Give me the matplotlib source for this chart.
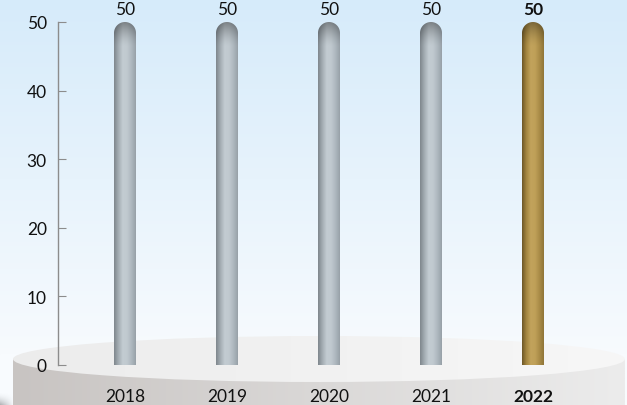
import numpy as np
import matplotlib
matplotlib.use("Agg")
import matplotlib.pyplot as plt
from matplotlib.patches import Ellipse, Rectangle, PathPatch
from matplotlib.path import Path
from matplotlib.colors import to_rgb

years = ["2018", "2019", "2020", "2021", "2022"]
values = [50, 50, 50, 50, 50]
highlight = [False, False, False, False, True]
yticks = [0, 10, 20, 30, 40, 50]

W, H = 627, 406
plt.rcParams['font.family'] = ['Lato', 'DejaVu Sans']
fig = plt.figure(figsize=(W / 100, H / 100), dpi=100)

# ---- background layer (pixel coordinates) ----
bg = fig.add_axes([0, 0, 1, 1], zorder=0)
bg.set_xlim(0, W)
bg.set_ylim(H, 0)
bg.axis('off')
top_c = np.array(to_rgb('#d6ebfa'))
bot_c = np.array(to_rgb('#f8fbfe'))
t = np.linspace(0, 1, 256)[:, None, None]
grad = top_c * (1 - t) + bot_c * t
grad = np.repeat(grad, 2, axis=1)
bg.imshow(grad, extent=(0, W, 360, 0), aspect='auto', interpolation='bicubic')
bg.add_patch(Rectangle((0, 355), W, H - 355, color='#f8fbfe', zorder=0.5))

# shadow bottom-left
sh = np.zeros((40, 40, 4))
yy, xx = np.mgrid[0:40, 0:40]
a = np.clip((yy / 39.0), 0, 1) ** 2 * np.clip(1 - xx / 39.0, 0, 1) * 0.3
sh[..., 3] = a
bg.imshow(sh, extent=(0, 14, H, 392), aspect='auto', zorder=0.8)

# podium side
cx, cy, ew, eh = 319, 360, 612, 46
side_l = np.array(to_rgb('#c8c4c2'))
side_r = np.array(to_rgb('#ececec'))
s = np.linspace(0, 1, 256)[None, :, None]
side = side_l * (1 - s) ** 1.0 + side_r * s
side = np.repeat(side, 2, axis=0)
sideim = bg.imshow(side, extent=(cx - ew / 2, cx + ew / 2, H, cy), aspect='auto', zorder=1)
clip_rect = Rectangle((cx - ew / 2, cy), ew, H - cy, transform=bg.transData)
sideim.set_clip_path(clip_rect)
# podium top
top_l = np.array(to_rgb('#ececec'))
top_r = np.array(to_rgb('#f7f7f7'))
topg = top_l * (1 - s) + top_r * s
topg = np.repeat(topg, 2, axis=0)
topim = bg.imshow(topg, extent=(cx - ew / 2, cx + ew / 2, cy + eh / 2, cy - eh / 2),
                  aspect='auto', zorder=2)
ell = Ellipse((cx, cy), ew, eh, transform=bg.transData, facecolor='none', edgecolor='none')
bg.add_patch(ell)
topim.set_clip_path(ell)
bg.set_xlim(0, W)
bg.set_ylim(H, 0)

# ---- main axes ----
ax_left, ax_bottom, ax_top = 58, 366, 23
x0c, step = 125, 102
ax = fig.add_axes([ax_left / W, (H - ax_bottom) / H, 1 - ax_left / W, (ax_bottom - ax_top) / H], zorder=2)
ax.patch.set_visible(False)
x = np.arange(len(years))
ax.set_xlim((ax_left - x0c) / step, (W - x0c) / step)
ax.set_ylim(0, 50)

bw = 22 / step
bars = ax.bar(x, values, width=bw, color='none', edgecolor='none')

fig.canvas.draw()
ppu_y = ax.transData.transform((0, 1))[1] - ax.transData.transform((0, 0))[1]
ppu_x = ax.transData.transform((1, 0))[0] - ax.transData.transform((0, 0))[0]

grey_prof = ['#7f878d', '#a4adb3', '#c3ccd2', '#c0c9cf', '#aeb8bf', '#98a1a8']
gold_prof = ['#6e5828', '#a48640', '#c2a35c', '#bfa058', '#aa8c48', '#907638']

def profile(cols, n=64):
    pts = np.linspace(0, 1, len(cols))
    arr = np.array([to_rgb(c) for c in cols])
    u = np.linspace(0, 1, n)
    return np.stack([np.interp(u, pts, arr[:, k]) for k in range(3)], axis=1)

for rect, hl, v in zip(bars, highlight, values):
    bx, bwid, bh = rect.get_x(), rect.get_width(), rect.get_height()
    rx = bwid / 2
    ry = (bwid / 2) * ppu_x / ppu_y
    theta = np.linspace(0, np.pi, 40)
    xc = bx + rx
    arc = np.column_stack([xc + rx * np.cos(theta), bh - ry + ry * np.sin(theta)])
    verts = np.vstack([[bx + bwid, 0], arc, [bx, 0], [bx + bwid, 0]])
    codes = [Path.MOVETO] + [Path.LINETO] * (len(verts) - 2) + [Path.CLOSEPOLY]
    patch = PathPatch(Path(verts, codes), facecolor='none', edgecolor='none')
    ax.add_patch(patch)
    prof = profile(gold_prof if hl else grey_prof)
    nrow = 300
    img = np.repeat(prof[None, :, :], nrow, axis=0)
    yv = np.linspace(bh, 0, nrow)
    capd = np.clip((yv - (bh - 2.2 * ry)) / (2.2 * ry), 0, 1)
    factor = 1 - 0.35 * capd ** 1.5
    img = img * factor[:, None, None]
    im = ax.imshow(img, extent=(bx, bx + bwid, 0, bh), aspect='auto', zorder=3,
                   interpolation='bilinear')
    im.set_clip_path(patch)
    ax.annotate(f"{v}", (xc, bh), xytext=(0, 5.8), textcoords='offset points',
                ha='center', va='baseline', fontsize=12.5, color='#111111',
                fontweight='bold' if hl else 'normal', annotation_clip=False)

ax.set_xlim((ax_left - x0c) / step, (W - x0c) / step)
ax.set_ylim(0, 50)

for sp in ['top', 'right', 'bottom']:
    ax.spines[sp].set_visible(False)
ax.spines['left'].set_color('#8c8c8c')
ax.spines['left'].set_linewidth(1.0)
ax.set_yticks(yticks)
ax.tick_params(axis='y', direction='in', length=6, color='#8c8c8c', pad=8,
               labelsize=12.5, labelcolor='#111111')
ax.set_xticks(x)
ax.set_xticklabels(years)
ax.tick_params(axis='x', length=0, pad=16.5, labelsize=12.5, labelcolor='#111111')
for lab, hl in zip(ax.get_xticklabels(), highlight):
    if hl:
        lab.set_fontweight('bold')

fig.savefig('out.png', dpi=100)
